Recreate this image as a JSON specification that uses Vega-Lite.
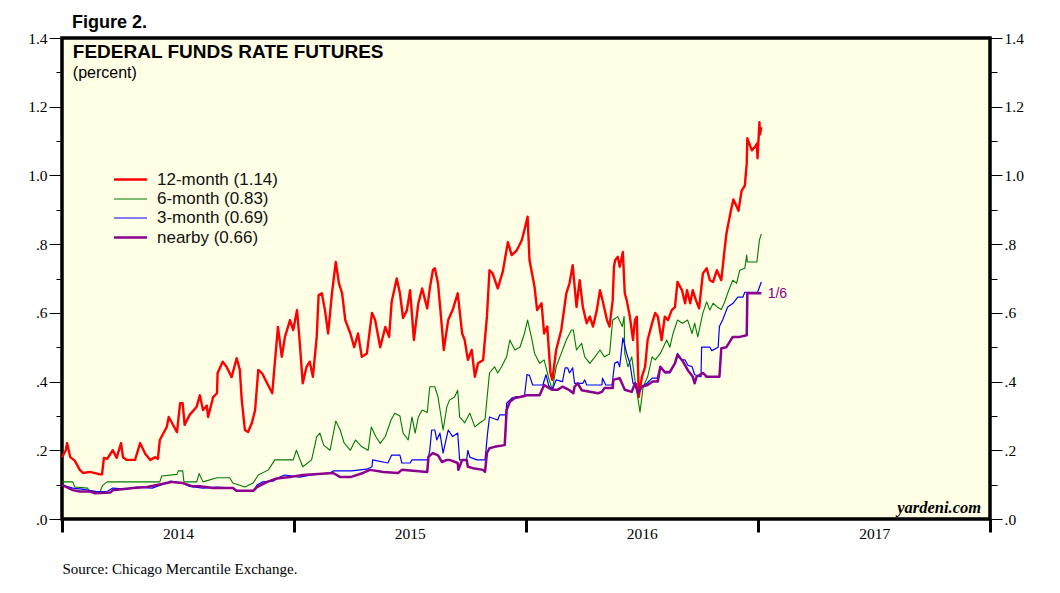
{
  "$schema": "https://vega.github.io/schema/vega-lite/v6.json",
  "autosize": "none",
  "padding": {"left": 62, "top": 38, "right": 70, "bottom": 74},
  "width": 928,
  "height": 481,
  "background": "white",
  "title": {"text": "Figure 2.", "anchor": "start", "frame": "group", "dx": 10, "offset": -15, "baseline": "alphabetic", "font": "Liberation Sans", "fontSize": 18, "fontWeight": "bold", "color": "black"},
  "config": {
    "view": {"stroke": "black", "strokeWidth": 3.5, "fill": "#FFFFE6"},
    "axis": {"domain": false, "grid": false, "labelFont": "Liberation Serif", "labelFontSize": 15.5, "labelColor": "black", "tickColor": "black"},
    "legend": {"symbolType": "M-1.65,0H1.65", "symbolSize": 400, "labelFont": "Liberation Sans", "labelFontSize": 17, "labelColor": "#111111", "labelOffset": 15, "rowPadding": 0, "padding": 0, "labelLimit": 300}
  },
  "data": {"values": [
    {"date": "2014-01-01", "series": "12-month (1.14)", "value": 0.18},
    {"date": "2014-01-07", "series": "12-month (1.14)", "value": 0.20},
    {"date": "2014-01-09", "series": "12-month (1.14)", "value": 0.221},
    {"date": "2014-01-14", "series": "12-month (1.14)", "value": 0.18},
    {"date": "2014-01-21", "series": "12-month (1.14)", "value": 0.17},
    {"date": "2014-01-29", "series": "12-month (1.14)", "value": 0.143},
    {"date": "2014-02-03", "series": "12-month (1.14)", "value": 0.134},
    {"date": "2014-02-14", "series": "12-month (1.14)", "value": 0.137},
    {"date": "2014-03-02", "series": "12-month (1.14)", "value": 0.13},
    {"date": "2014-03-05", "series": "12-month (1.14)", "value": 0.13},
    {"date": "2014-03-08", "series": "12-month (1.14)", "value": 0.178},
    {"date": "2014-03-13", "series": "12-month (1.14)", "value": 0.175},
    {"date": "2014-03-22", "series": "12-month (1.14)", "value": 0.2},
    {"date": "2014-03-28", "series": "12-month (1.14)", "value": 0.178},
    {"date": "2014-04-04", "series": "12-month (1.14)", "value": 0.221},
    {"date": "2014-04-07", "series": "12-month (1.14)", "value": 0.18},
    {"date": "2014-04-13", "series": "12-month (1.14)", "value": 0.172},
    {"date": "2014-04-26", "series": "12-month (1.14)", "value": 0.172},
    {"date": "2014-05-04", "series": "12-month (1.14)", "value": 0.221},
    {"date": "2014-05-12", "series": "12-month (1.14)", "value": 0.19},
    {"date": "2014-05-20", "series": "12-month (1.14)", "value": 0.172},
    {"date": "2014-05-28", "series": "12-month (1.14)", "value": 0.18},
    {"date": "2014-06-01", "series": "12-month (1.14)", "value": 0.175},
    {"date": "2014-06-04", "series": "12-month (1.14)", "value": 0.23},
    {"date": "2014-06-15", "series": "12-month (1.14)", "value": 0.268},
    {"date": "2014-06-18", "series": "12-month (1.14)", "value": 0.297},
    {"date": "2014-06-23", "series": "12-month (1.14)", "value": 0.28},
    {"date": "2014-07-01", "series": "12-month (1.14)", "value": 0.253},
    {"date": "2014-07-06", "series": "12-month (1.14)", "value": 0.337},
    {"date": "2014-07-10", "series": "12-month (1.14)", "value": 0.337},
    {"date": "2014-07-13", "series": "12-month (1.14)", "value": 0.274},
    {"date": "2014-07-21", "series": "12-month (1.14)", "value": 0.303},
    {"date": "2014-08-01", "series": "12-month (1.14)", "value": 0.327},
    {"date": "2014-08-06", "series": "12-month (1.14)", "value": 0.36},
    {"date": "2014-08-11", "series": "12-month (1.14)", "value": 0.317},
    {"date": "2014-08-17", "series": "12-month (1.14)", "value": 0.33},
    {"date": "2014-08-19", "series": "12-month (1.14)", "value": 0.297},
    {"date": "2014-08-27", "series": "12-month (1.14)", "value": 0.355},
    {"date": "2014-09-02", "series": "12-month (1.14)", "value": 0.366},
    {"date": "2014-09-03", "series": "12-month (1.14)", "value": 0.425},
    {"date": "2014-09-11", "series": "12-month (1.14)", "value": 0.458},
    {"date": "2014-09-17", "series": "12-month (1.14)", "value": 0.443},
    {"date": "2014-09-25", "series": "12-month (1.14)", "value": 0.413},
    {"date": "2014-10-03", "series": "12-month (1.14)", "value": 0.468},
    {"date": "2014-10-08", "series": "12-month (1.14)", "value": 0.434},
    {"date": "2014-10-11", "series": "12-month (1.14)", "value": 0.346},
    {"date": "2014-10-16", "series": "12-month (1.14)", "value": 0.259},
    {"date": "2014-10-21", "series": "12-month (1.14)", "value": 0.253},
    {"date": "2014-10-27", "series": "12-month (1.14)", "value": 0.28},
    {"date": "2014-11-01", "series": "12-month (1.14)", "value": 0.317},
    {"date": "2014-11-06", "series": "12-month (1.14)", "value": 0.434},
    {"date": "2014-11-12", "series": "12-month (1.14)", "value": 0.424},
    {"date": "2014-11-20", "series": "12-month (1.14)", "value": 0.395},
    {"date": "2014-11-28", "series": "12-month (1.14)", "value": 0.366},
    {"date": "2014-12-02", "series": "12-month (1.14)", "value": 0.453},
    {"date": "2014-12-07", "series": "12-month (1.14)", "value": 0.559},
    {"date": "2014-12-13", "series": "12-month (1.14)", "value": 0.472},
    {"date": "2014-12-18", "series": "12-month (1.14)", "value": 0.53},
    {"date": "2014-12-26", "series": "12-month (1.14)", "value": 0.579},
    {"date": "2014-12-31", "series": "12-month (1.14)", "value": 0.55},
    {"date": "2015-01-06", "series": "12-month (1.14)", "value": 0.608},
    {"date": "2015-01-10", "series": "12-month (1.14)", "value": 0.521},
    {"date": "2015-01-15", "series": "12-month (1.14)", "value": 0.395},
    {"date": "2015-01-21", "series": "12-month (1.14)", "value": 0.443},
    {"date": "2015-01-26", "series": "12-month (1.14)", "value": 0.458},
    {"date": "2015-01-31", "series": "12-month (1.14)", "value": 0.414},
    {"date": "2015-02-06", "series": "12-month (1.14)", "value": 0.53},
    {"date": "2015-02-09", "series": "12-month (1.14)", "value": 0.652},
    {"date": "2015-02-14", "series": "12-month (1.14)", "value": 0.657},
    {"date": "2015-02-19", "series": "12-month (1.14)", "value": 0.608},
    {"date": "2015-02-24", "series": "12-month (1.14)", "value": 0.54},
    {"date": "2015-03-02", "series": "12-month (1.14)", "value": 0.657},
    {"date": "2015-03-08", "series": "12-month (1.14)", "value": 0.748},
    {"date": "2015-03-13", "series": "12-month (1.14)", "value": 0.686},
    {"date": "2015-03-18", "series": "12-month (1.14)", "value": 0.657},
    {"date": "2015-03-23", "series": "12-month (1.14)", "value": 0.579},
    {"date": "2015-03-31", "series": "12-month (1.14)", "value": 0.54},
    {"date": "2015-04-06", "series": "12-month (1.14)", "value": 0.5},
    {"date": "2015-04-12", "series": "12-month (1.14)", "value": 0.54},
    {"date": "2015-04-18", "series": "12-month (1.14)", "value": 0.472},
    {"date": "2015-04-26", "series": "12-month (1.14)", "value": 0.482},
    {"date": "2015-05-04", "series": "12-month (1.14)", "value": 0.6},
    {"date": "2015-05-09", "series": "12-month (1.14)", "value": 0.579},
    {"date": "2015-05-17", "series": "12-month (1.14)", "value": 0.5},
    {"date": "2015-05-25", "series": "12-month (1.14)", "value": 0.559},
    {"date": "2015-05-31", "series": "12-month (1.14)", "value": 0.53},
    {"date": "2015-06-04", "series": "12-month (1.14)", "value": 0.632},
    {"date": "2015-06-12", "series": "12-month (1.14)", "value": 0.7},
    {"date": "2015-06-17", "series": "12-month (1.14)", "value": 0.657},
    {"date": "2015-06-22", "series": "12-month (1.14)", "value": 0.585},
    {"date": "2015-06-28", "series": "12-month (1.14)", "value": 0.608},
    {"date": "2015-07-03", "series": "12-month (1.14)", "value": 0.666},
    {"date": "2015-07-09", "series": "12-month (1.14)", "value": 0.521},
    {"date": "2015-07-16", "series": "12-month (1.14)", "value": 0.628},
    {"date": "2015-07-22", "series": "12-month (1.14)", "value": 0.671},
    {"date": "2015-07-30", "series": "12-month (1.14)", "value": 0.613},
    {"date": "2015-08-03", "series": "12-month (1.14)", "value": 0.671},
    {"date": "2015-08-08", "series": "12-month (1.14)", "value": 0.725},
    {"date": "2015-08-11", "series": "12-month (1.14)", "value": 0.73},
    {"date": "2015-08-16", "series": "12-month (1.14)", "value": 0.686},
    {"date": "2015-08-22", "series": "12-month (1.14)", "value": 0.56},
    {"date": "2015-08-25", "series": "12-month (1.14)", "value": 0.492},
    {"date": "2015-09-01", "series": "12-month (1.14)", "value": 0.579},
    {"date": "2015-09-08", "series": "12-month (1.14)", "value": 0.608},
    {"date": "2015-09-16", "series": "12-month (1.14)", "value": 0.657},
    {"date": "2015-09-23", "series": "12-month (1.14)", "value": 0.54},
    {"date": "2015-09-27", "series": "12-month (1.14)", "value": 0.521},
    {"date": "2015-10-02", "series": "12-month (1.14)", "value": 0.463},
    {"date": "2015-10-08", "series": "12-month (1.14)", "value": 0.492},
    {"date": "2015-10-13", "series": "12-month (1.14)", "value": 0.414},
    {"date": "2015-10-18", "series": "12-month (1.14)", "value": 0.453},
    {"date": "2015-10-26", "series": "12-month (1.14)", "value": 0.463},
    {"date": "2015-11-01", "series": "12-month (1.14)", "value": 0.589},
    {"date": "2015-11-05", "series": "12-month (1.14)", "value": 0.724},
    {"date": "2015-11-10", "series": "12-month (1.14)", "value": 0.715},
    {"date": "2015-11-18", "series": "12-month (1.14)", "value": 0.671},
    {"date": "2015-11-26", "series": "12-month (1.14)", "value": 0.72},
    {"date": "2015-12-04", "series": "12-month (1.14)", "value": 0.806},
    {"date": "2015-12-10", "series": "12-month (1.14)", "value": 0.768},
    {"date": "2015-12-18", "series": "12-month (1.14)", "value": 0.782},
    {"date": "2015-12-26", "series": "12-month (1.14)", "value": 0.812},
    {"date": "2015-12-30", "series": "12-month (1.14)", "value": 0.841},
    {"date": "2016-01-04", "series": "12-month (1.14)", "value": 0.88},
    {"date": "2016-01-07", "series": "12-month (1.14)", "value": 0.754},
    {"date": "2016-01-15", "series": "12-month (1.14)", "value": 0.675},
    {"date": "2016-01-19", "series": "12-month (1.14)", "value": 0.608},
    {"date": "2016-01-26", "series": "12-month (1.14)", "value": 0.628},
    {"date": "2016-01-30", "series": "12-month (1.14)", "value": 0.54},
    {"date": "2016-02-04", "series": "12-month (1.14)", "value": 0.56},
    {"date": "2016-02-09", "series": "12-month (1.14)", "value": 0.425},
    {"date": "2016-02-12", "series": "12-month (1.14)", "value": 0.405},
    {"date": "2016-02-18", "series": "12-month (1.14)", "value": 0.492},
    {"date": "2016-02-26", "series": "12-month (1.14)", "value": 0.55},
    {"date": "2016-03-05", "series": "12-month (1.14)", "value": 0.657},
    {"date": "2016-03-10", "series": "12-month (1.14)", "value": 0.686},
    {"date": "2016-03-15", "series": "12-month (1.14)", "value": 0.739},
    {"date": "2016-03-21", "series": "12-month (1.14)", "value": 0.617},
    {"date": "2016-03-26", "series": "12-month (1.14)", "value": 0.695},
    {"date": "2016-03-31", "series": "12-month (1.14)", "value": 0.617},
    {"date": "2016-04-06", "series": "12-month (1.14)", "value": 0.57},
    {"date": "2016-04-11", "series": "12-month (1.14)", "value": 0.589},
    {"date": "2016-04-16", "series": "12-month (1.14)", "value": 0.56},
    {"date": "2016-04-22", "series": "12-month (1.14)", "value": 0.608},
    {"date": "2016-04-27", "series": "12-month (1.14)", "value": 0.666},
    {"date": "2016-05-01", "series": "12-month (1.14)", "value": 0.637},
    {"date": "2016-05-08", "series": "12-month (1.14)", "value": 0.579},
    {"date": "2016-05-12", "series": "12-month (1.14)", "value": 0.56},
    {"date": "2016-05-17", "series": "12-month (1.14)", "value": 0.637},
    {"date": "2016-05-19", "series": "12-month (1.14)", "value": 0.734},
    {"date": "2016-05-21", "series": "12-month (1.14)", "value": 0.754},
    {"date": "2016-05-25", "series": "12-month (1.14)", "value": 0.763},
    {"date": "2016-05-28", "series": "12-month (1.14)", "value": 0.734},
    {"date": "2016-06-02", "series": "12-month (1.14)", "value": 0.777},
    {"date": "2016-06-05", "series": "12-month (1.14)", "value": 0.657},
    {"date": "2016-06-08", "series": "12-month (1.14)", "value": 0.637},
    {"date": "2016-06-13", "series": "12-month (1.14)", "value": 0.589},
    {"date": "2016-06-18", "series": "12-month (1.14)", "value": 0.521},
    {"date": "2016-06-21", "series": "12-month (1.14)", "value": 0.579},
    {"date": "2016-06-24", "series": "12-month (1.14)", "value": 0.589},
    {"date": "2016-06-27", "series": "12-month (1.14)", "value": 0.355},
    {"date": "2016-07-02", "series": "12-month (1.14)", "value": 0.414},
    {"date": "2016-07-07", "series": "12-month (1.14)", "value": 0.443},
    {"date": "2016-07-11", "series": "12-month (1.14)", "value": 0.521},
    {"date": "2016-07-18", "series": "12-month (1.14)", "value": 0.57},
    {"date": "2016-07-23", "series": "12-month (1.14)", "value": 0.6},
    {"date": "2016-07-27", "series": "12-month (1.14)", "value": 0.589},
    {"date": "2016-08-02", "series": "12-month (1.14)", "value": 0.521},
    {"date": "2016-08-07", "series": "12-month (1.14)", "value": 0.589},
    {"date": "2016-08-12", "series": "12-month (1.14)", "value": 0.579},
    {"date": "2016-08-18", "series": "12-month (1.14)", "value": 0.608},
    {"date": "2016-08-23", "series": "12-month (1.14)", "value": 0.617},
    {"date": "2016-08-27", "series": "12-month (1.14)", "value": 0.69},
    {"date": "2016-09-03", "series": "12-month (1.14)", "value": 0.666},
    {"date": "2016-09-08", "series": "12-month (1.14)", "value": 0.628},
    {"date": "2016-09-11", "series": "12-month (1.14)", "value": 0.666},
    {"date": "2016-09-16", "series": "12-month (1.14)", "value": 0.628},
    {"date": "2016-09-20", "series": "12-month (1.14)", "value": 0.666},
    {"date": "2016-09-25", "series": "12-month (1.14)", "value": 0.637},
    {"date": "2016-09-30", "series": "12-month (1.14)", "value": 0.613},
    {"date": "2016-10-06", "series": "12-month (1.14)", "value": 0.715},
    {"date": "2016-10-12", "series": "12-month (1.14)", "value": 0.73},
    {"date": "2016-10-17", "series": "12-month (1.14)", "value": 0.695},
    {"date": "2016-10-22", "series": "12-month (1.14)", "value": 0.69},
    {"date": "2016-10-28", "series": "12-month (1.14)", "value": 0.724},
    {"date": "2016-11-04", "series": "12-month (1.14)", "value": 0.695},
    {"date": "2016-11-09", "series": "12-month (1.14)", "value": 0.782},
    {"date": "2016-11-12", "series": "12-month (1.14)", "value": 0.83},
    {"date": "2016-11-19", "series": "12-month (1.14)", "value": 0.897},
    {"date": "2016-11-23", "series": "12-month (1.14)", "value": 0.93},
    {"date": "2016-11-28", "series": "12-month (1.14)", "value": 0.91},
    {"date": "2016-12-01", "series": "12-month (1.14)", "value": 0.897},
    {"date": "2016-12-06", "series": "12-month (1.14)", "value": 0.956},
    {"date": "2016-12-11", "series": "12-month (1.14)", "value": 0.97},
    {"date": "2016-12-14", "series": "12-month (1.14)", "value": 1.035},
    {"date": "2016-12-15", "series": "12-month (1.14)", "value": 1.108},
    {"date": "2016-12-22", "series": "12-month (1.14)", "value": 1.073},
    {"date": "2016-12-27", "series": "12-month (1.14)", "value": 1.083},
    {"date": "2016-12-30", "series": "12-month (1.14)", "value": 1.093},
    {"date": "2016-12-31", "series": "12-month (1.14)", "value": 1.05},
    {"date": "2017-01-03", "series": "12-month (1.14)", "value": 1.155},
    {"date": "2017-01-04", "series": "12-month (1.14)", "value": 1.12},
    {"date": "2017-01-06", "series": "12-month (1.14)", "value": 1.14},

    {"date": "2014-01-01", "series": "6-month (0.83)", "value": 0.108},
    {"date": "2014-01-18", "series": "6-month (0.83)", "value": 0.108},
    {"date": "2014-01-21", "series": "6-month (0.83)", "value": 0.093},
    {"date": "2014-02-10", "series": "6-month (0.83)", "value": 0.09},
    {"date": "2014-02-14", "series": "6-month (0.83)", "value": 0.08},
    {"date": "2014-03-02", "series": "6-month (0.83)", "value": 0.08},
    {"date": "2014-03-06", "series": "6-month (0.83)", "value": 0.098},
    {"date": "2014-03-13", "series": "6-month (0.83)", "value": 0.108},
    {"date": "2014-06-04", "series": "6-month (0.83)", "value": 0.108},
    {"date": "2014-06-07", "series": "6-month (0.83)", "value": 0.125},
    {"date": "2014-07-01", "series": "6-month (0.83)", "value": 0.13},
    {"date": "2014-07-03", "series": "6-month (0.83)", "value": 0.14},
    {"date": "2014-07-10", "series": "6-month (0.83)", "value": 0.14},
    {"date": "2014-07-12", "series": "6-month (0.83)", "value": 0.108},
    {"date": "2014-08-01", "series": "6-month (0.83)", "value": 0.108},
    {"date": "2014-08-05", "series": "6-month (0.83)", "value": 0.132},
    {"date": "2014-08-11", "series": "6-month (0.83)", "value": 0.108},
    {"date": "2014-09-02", "series": "6-month (0.83)", "value": 0.12},
    {"date": "2014-09-22", "series": "6-month (0.83)", "value": 0.12},
    {"date": "2014-09-27", "series": "6-month (0.83)", "value": 0.105},
    {"date": "2014-10-16", "series": "6-month (0.83)", "value": 0.093},
    {"date": "2014-10-29", "series": "6-month (0.83)", "value": 0.105},
    {"date": "2014-11-06", "series": "6-month (0.83)", "value": 0.128},
    {"date": "2014-11-22", "series": "6-month (0.83)", "value": 0.143},
    {"date": "2014-12-02", "series": "6-month (0.83)", "value": 0.172},
    {"date": "2014-12-31", "series": "6-month (0.83)", "value": 0.172},
    {"date": "2015-01-05", "series": "6-month (0.83)", "value": 0.2},
    {"date": "2015-01-15", "series": "6-month (0.83)", "value": 0.152},
    {"date": "2015-01-29", "series": "6-month (0.83)", "value": 0.172},
    {"date": "2015-02-06", "series": "6-month (0.83)", "value": 0.24},
    {"date": "2015-02-11", "series": "6-month (0.83)", "value": 0.25},
    {"date": "2015-02-17", "series": "6-month (0.83)", "value": 0.215},
    {"date": "2015-02-27", "series": "6-month (0.83)", "value": 0.2},
    {"date": "2015-03-08", "series": "6-month (0.83)", "value": 0.285},
    {"date": "2015-03-15", "series": "6-month (0.83)", "value": 0.259},
    {"date": "2015-03-21", "series": "6-month (0.83)", "value": 0.222},
    {"date": "2015-03-31", "series": "6-month (0.83)", "value": 0.2},
    {"date": "2015-04-08", "series": "6-month (0.83)", "value": 0.23},
    {"date": "2015-04-18", "series": "6-month (0.83)", "value": 0.21},
    {"date": "2015-04-28", "series": "6-month (0.83)", "value": 0.2},
    {"date": "2015-05-03", "series": "6-month (0.83)", "value": 0.268},
    {"date": "2015-05-10", "series": "6-month (0.83)", "value": 0.24},
    {"date": "2015-05-17", "series": "6-month (0.83)", "value": 0.22},
    {"date": "2015-05-25", "series": "6-month (0.83)", "value": 0.24},
    {"date": "2015-06-03", "series": "6-month (0.83)", "value": 0.288},
    {"date": "2015-06-09", "series": "6-month (0.83)", "value": 0.308},
    {"date": "2015-06-17", "series": "6-month (0.83)", "value": 0.3},
    {"date": "2015-06-22", "series": "6-month (0.83)", "value": 0.25},
    {"date": "2015-06-30", "series": "6-month (0.83)", "value": 0.23},
    {"date": "2015-07-06", "series": "6-month (0.83)", "value": 0.297},
    {"date": "2015-07-11", "series": "6-month (0.83)", "value": 0.25},
    {"date": "2015-07-16", "series": "6-month (0.83)", "value": 0.297},
    {"date": "2015-07-22", "series": "6-month (0.83)", "value": 0.317},
    {"date": "2015-07-30", "series": "6-month (0.83)", "value": 0.31},
    {"date": "2015-08-03", "series": "6-month (0.83)", "value": 0.385},
    {"date": "2015-08-11", "series": "6-month (0.83)", "value": 0.385},
    {"date": "2015-08-16", "series": "6-month (0.83)", "value": 0.355},
    {"date": "2015-08-24", "series": "6-month (0.83)", "value": 0.259},
    {"date": "2015-08-30", "series": "6-month (0.83)", "value": 0.327},
    {"date": "2015-09-03", "series": "6-month (0.83)", "value": 0.346},
    {"date": "2015-09-11", "series": "6-month (0.83)", "value": 0.355},
    {"date": "2015-09-16", "series": "6-month (0.83)", "value": 0.375},
    {"date": "2015-09-19", "series": "6-month (0.83)", "value": 0.297},
    {"date": "2015-09-27", "series": "6-month (0.83)", "value": 0.28},
    {"date": "2015-10-05", "series": "6-month (0.83)", "value": 0.308},
    {"date": "2015-10-13", "series": "6-month (0.83)", "value": 0.268},
    {"date": "2015-10-21", "series": "6-month (0.83)", "value": 0.28},
    {"date": "2015-10-29", "series": "6-month (0.83)", "value": 0.29},
    {"date": "2015-11-05", "series": "6-month (0.83)", "value": 0.425},
    {"date": "2015-11-13", "series": "6-month (0.83)", "value": 0.443},
    {"date": "2015-11-18", "series": "6-month (0.83)", "value": 0.425},
    {"date": "2015-11-24", "series": "6-month (0.83)", "value": 0.443},
    {"date": "2015-12-02", "series": "6-month (0.83)", "value": 0.472},
    {"date": "2015-12-07", "series": "6-month (0.83)", "value": 0.521},
    {"date": "2015-12-15", "series": "6-month (0.83)", "value": 0.492},
    {"date": "2015-12-23", "series": "6-month (0.83)", "value": 0.5},
    {"date": "2015-12-30", "series": "6-month (0.83)", "value": 0.54},
    {"date": "2016-01-04", "series": "6-month (0.83)", "value": 0.579},
    {"date": "2016-01-10", "series": "6-month (0.83)", "value": 0.53},
    {"date": "2016-01-15", "series": "6-month (0.83)", "value": 0.482},
    {"date": "2016-01-23", "series": "6-month (0.83)", "value": 0.453},
    {"date": "2016-01-30", "series": "6-month (0.83)", "value": 0.463},
    {"date": "2016-02-07", "series": "6-month (0.83)", "value": 0.405},
    {"date": "2016-02-12", "series": "6-month (0.83)", "value": 0.376},
    {"date": "2016-02-18", "series": "6-month (0.83)", "value": 0.443},
    {"date": "2016-02-26", "series": "6-month (0.83)", "value": 0.482},
    {"date": "2016-03-05", "series": "6-month (0.83)", "value": 0.521},
    {"date": "2016-03-13", "series": "6-month (0.83)", "value": 0.55},
    {"date": "2016-03-16", "series": "6-month (0.83)", "value": 0.55},
    {"date": "2016-03-21", "series": "6-month (0.83)", "value": 0.492},
    {"date": "2016-03-29", "series": "6-month (0.83)", "value": 0.511},
    {"date": "2016-04-03", "series": "6-month (0.83)", "value": 0.472},
    {"date": "2016-04-11", "series": "6-month (0.83)", "value": 0.453},
    {"date": "2016-04-19", "series": "6-month (0.83)", "value": 0.472},
    {"date": "2016-04-27", "series": "6-month (0.83)", "value": 0.492},
    {"date": "2016-05-04", "series": "6-month (0.83)", "value": 0.472},
    {"date": "2016-05-12", "series": "6-month (0.83)", "value": 0.48},
    {"date": "2016-05-17", "series": "6-month (0.83)", "value": 0.579},
    {"date": "2016-05-25", "series": "6-month (0.83)", "value": 0.589},
    {"date": "2016-06-01", "series": "6-month (0.83)", "value": 0.56},
    {"date": "2016-06-04", "series": "6-month (0.83)", "value": 0.589},
    {"date": "2016-06-05", "series": "6-month (0.83)", "value": 0.482},
    {"date": "2016-06-10", "series": "6-month (0.83)", "value": 0.443},
    {"date": "2016-06-16", "series": "6-month (0.83)", "value": 0.472},
    {"date": "2016-06-21", "series": "6-month (0.83)", "value": 0.405},
    {"date": "2016-06-29", "series": "6-month (0.83)", "value": 0.311},
    {"date": "2016-07-04", "series": "6-month (0.83)", "value": 0.385},
    {"date": "2016-07-11", "series": "6-month (0.83)", "value": 0.414},
    {"date": "2016-07-18", "series": "6-month (0.83)", "value": 0.472},
    {"date": "2016-07-23", "series": "6-month (0.83)", "value": 0.463},
    {"date": "2016-07-31", "series": "6-month (0.83)", "value": 0.482},
    {"date": "2016-08-10", "series": "6-month (0.83)", "value": 0.521},
    {"date": "2016-08-15", "series": "6-month (0.83)", "value": 0.5},
    {"date": "2016-08-20", "series": "6-month (0.83)", "value": 0.54},
    {"date": "2016-08-27", "series": "6-month (0.83)", "value": 0.579},
    {"date": "2016-09-04", "series": "6-month (0.83)", "value": 0.57},
    {"date": "2016-09-12", "series": "6-month (0.83)", "value": 0.579},
    {"date": "2016-09-19", "series": "6-month (0.83)", "value": 0.54},
    {"date": "2016-09-23", "series": "6-month (0.83)", "value": 0.57},
    {"date": "2016-09-28", "series": "6-month (0.83)", "value": 0.53},
    {"date": "2016-10-06", "series": "6-month (0.83)", "value": 0.6},
    {"date": "2016-10-12", "series": "6-month (0.83)", "value": 0.632},
    {"date": "2016-10-17", "series": "6-month (0.83)", "value": 0.608},
    {"date": "2016-10-22", "series": "6-month (0.83)", "value": 0.628},
    {"date": "2016-10-28", "series": "6-month (0.83)", "value": 0.618},
    {"date": "2016-11-04", "series": "6-month (0.83)", "value": 0.61},
    {"date": "2016-11-09", "series": "6-month (0.83)", "value": 0.63},
    {"date": "2016-11-14", "series": "6-month (0.83)", "value": 0.657},
    {"date": "2016-11-22", "series": "6-month (0.83)", "value": 0.695},
    {"date": "2016-11-28", "series": "6-month (0.83)", "value": 0.686},
    {"date": "2016-12-03", "series": "6-month (0.83)", "value": 0.724},
    {"date": "2016-12-11", "series": "6-month (0.83)", "value": 0.73},
    {"date": "2016-12-14", "series": "6-month (0.83)", "value": 0.768},
    {"date": "2016-12-15", "series": "6-month (0.83)", "value": 0.748},
    {"date": "2016-12-30", "series": "6-month (0.83)", "value": 0.748},
    {"date": "2017-01-03", "series": "6-month (0.83)", "value": 0.812},
    {"date": "2017-01-06", "series": "6-month (0.83)", "value": 0.83},

    {"date": "2014-01-01", "series": "3-month (0.69)", "value": 0.099},
    {"date": "2014-01-18", "series": "3-month (0.69)", "value": 0.09},
    {"date": "2014-02-01", "series": "3-month (0.69)", "value": 0.087},
    {"date": "2014-02-25", "series": "3-month (0.69)", "value": 0.08},
    {"date": "2014-03-13", "series": "3-month (0.69)", "value": 0.08},
    {"date": "2014-03-22", "series": "3-month (0.69)", "value": 0.09},
    {"date": "2014-04-13", "series": "3-month (0.69)", "value": 0.087},
    {"date": "2014-04-29", "series": "3-month (0.69)", "value": 0.093},
    {"date": "2014-05-23", "series": "3-month (0.69)", "value": 0.09},
    {"date": "2014-06-15", "series": "3-month (0.69)", "value": 0.105},
    {"date": "2014-06-20", "series": "3-month (0.69)", "value": 0.11},
    {"date": "2014-07-09", "series": "3-month (0.69)", "value": 0.105},
    {"date": "2014-07-21", "series": "3-month (0.69)", "value": 0.095},
    {"date": "2014-08-11", "series": "3-month (0.69)", "value": 0.09},
    {"date": "2014-09-02", "series": "3-month (0.69)", "value": 0.093},
    {"date": "2014-09-27", "series": "3-month (0.69)", "value": 0.09},
    {"date": "2014-10-03", "series": "3-month (0.69)", "value": 0.08},
    {"date": "2014-10-29", "series": "3-month (0.69)", "value": 0.08},
    {"date": "2014-11-04", "series": "3-month (0.69)", "value": 0.099},
    {"date": "2014-11-13", "series": "3-month (0.69)", "value": 0.108},
    {"date": "2014-11-29", "series": "3-month (0.69)", "value": 0.11},
    {"date": "2014-12-10", "series": "3-month (0.69)", "value": 0.122},
    {"date": "2014-12-18", "series": "3-month (0.69)", "value": 0.128},
    {"date": "2015-01-10", "series": "3-month (0.69)", "value": 0.122},
    {"date": "2015-01-29", "series": "3-month (0.69)", "value": 0.128},
    {"date": "2015-02-27", "series": "3-month (0.69)", "value": 0.134},
    {"date": "2015-03-04", "series": "3-month (0.69)", "value": 0.14},
    {"date": "2015-04-02", "series": "3-month (0.69)", "value": 0.14},
    {"date": "2015-04-26", "series": "3-month (0.69)", "value": 0.145},
    {"date": "2015-05-04", "series": "3-month (0.69)", "value": 0.152},
    {"date": "2015-05-05", "series": "3-month (0.69)", "value": 0.172},
    {"date": "2015-05-29", "series": "3-month (0.69)", "value": 0.163},
    {"date": "2015-06-04", "series": "3-month (0.69)", "value": 0.186},
    {"date": "2015-06-17", "series": "3-month (0.69)", "value": 0.186},
    {"date": "2015-06-20", "series": "3-month (0.69)", "value": 0.163},
    {"date": "2015-07-03", "series": "3-month (0.69)", "value": 0.163},
    {"date": "2015-07-06", "series": "3-month (0.69)", "value": 0.172},
    {"date": "2015-07-31", "series": "3-month (0.69)", "value": 0.172},
    {"date": "2015-08-03", "series": "3-month (0.69)", "value": 0.2},
    {"date": "2015-08-06", "series": "3-month (0.69)", "value": 0.259},
    {"date": "2015-08-11", "series": "3-month (0.69)", "value": 0.259},
    {"date": "2015-08-14", "series": "3-month (0.69)", "value": 0.23},
    {"date": "2015-08-19", "series": "3-month (0.69)", "value": 0.25},
    {"date": "2015-08-24", "series": "3-month (0.69)", "value": 0.192},
    {"date": "2015-09-01", "series": "3-month (0.69)", "value": 0.259},
    {"date": "2015-09-08", "series": "3-month (0.69)", "value": 0.24},
    {"date": "2015-09-16", "series": "3-month (0.69)", "value": 0.25},
    {"date": "2015-09-19", "series": "3-month (0.69)", "value": 0.172},
    {"date": "2015-09-30", "series": "3-month (0.69)", "value": 0.172},
    {"date": "2015-10-02", "series": "3-month (0.69)", "value": 0.2},
    {"date": "2015-10-05", "series": "3-month (0.69)", "value": 0.18},
    {"date": "2015-10-16", "series": "3-month (0.69)", "value": 0.172},
    {"date": "2015-10-29", "series": "3-month (0.69)", "value": 0.172},
    {"date": "2015-11-02", "series": "3-month (0.69)", "value": 0.25},
    {"date": "2015-11-05", "series": "3-month (0.69)", "value": 0.297},
    {"date": "2015-11-18", "series": "3-month (0.69)", "value": 0.288},
    {"date": "2015-11-21", "series": "3-month (0.69)", "value": 0.303},
    {"date": "2015-12-01", "series": "3-month (0.69)", "value": 0.303},
    {"date": "2015-12-02", "series": "3-month (0.69)", "value": 0.337},
    {"date": "2015-12-10", "series": "3-month (0.69)", "value": 0.352},
    {"date": "2015-12-18", "series": "3-month (0.69)", "value": 0.356},
    {"date": "2015-12-30", "series": "3-month (0.69)", "value": 0.356},
    {"date": "2016-01-03", "series": "3-month (0.69)", "value": 0.42},
    {"date": "2016-01-07", "series": "3-month (0.69)", "value": 0.418},
    {"date": "2016-01-12", "series": "3-month (0.69)", "value": 0.39},
    {"date": "2016-01-28", "series": "3-month (0.69)", "value": 0.39},
    {"date": "2016-02-02", "series": "3-month (0.69)", "value": 0.42},
    {"date": "2016-02-06", "series": "3-month (0.69)", "value": 0.39},
    {"date": "2016-02-12", "series": "3-month (0.69)", "value": 0.376},
    {"date": "2016-02-18", "series": "3-month (0.69)", "value": 0.405},
    {"date": "2016-02-28", "series": "3-month (0.69)", "value": 0.4},
    {"date": "2016-03-03", "series": "3-month (0.69)", "value": 0.44},
    {"date": "2016-03-07", "series": "3-month (0.69)", "value": 0.44},
    {"date": "2016-03-10", "series": "3-month (0.69)", "value": 0.425},
    {"date": "2016-03-15", "series": "3-month (0.69)", "value": 0.44},
    {"date": "2016-03-18", "series": "3-month (0.69)", "value": 0.395},
    {"date": "2016-03-31", "series": "3-month (0.69)", "value": 0.395},
    {"date": "2016-04-03", "series": "3-month (0.69)", "value": 0.405},
    {"date": "2016-04-06", "series": "3-month (0.69)", "value": 0.39},
    {"date": "2016-04-30", "series": "3-month (0.69)", "value": 0.39},
    {"date": "2016-05-01", "series": "3-month (0.69)", "value": 0.41},
    {"date": "2016-05-06", "series": "3-month (0.69)", "value": 0.39},
    {"date": "2016-05-16", "series": "3-month (0.69)", "value": 0.39},
    {"date": "2016-05-20", "series": "3-month (0.69)", "value": 0.453},
    {"date": "2016-05-25", "series": "3-month (0.69)", "value": 0.458},
    {"date": "2016-05-28", "series": "3-month (0.69)", "value": 0.443},
    {"date": "2016-06-02", "series": "3-month (0.69)", "value": 0.527},
    {"date": "2016-06-08", "series": "3-month (0.69)", "value": 0.482},
    {"date": "2016-06-13", "series": "3-month (0.69)", "value": 0.453},
    {"date": "2016-06-18", "series": "3-month (0.69)", "value": 0.395},
    {"date": "2016-06-23", "series": "3-month (0.69)", "value": 0.395},
    {"date": "2016-06-26", "series": "3-month (0.69)", "value": 0.366},
    {"date": "2016-07-01", "series": "3-month (0.69)", "value": 0.385},
    {"date": "2016-07-10", "series": "3-month (0.69)", "value": 0.395},
    {"date": "2016-07-18", "series": "3-month (0.69)", "value": 0.41},
    {"date": "2016-07-26", "series": "3-month (0.69)", "value": 0.41},
    {"date": "2016-07-31", "series": "3-month (0.69)", "value": 0.443},
    {"date": "2016-08-07", "series": "3-month (0.69)", "value": 0.425},
    {"date": "2016-08-15", "series": "3-month (0.69)", "value": 0.425},
    {"date": "2016-08-23", "series": "3-month (0.69)", "value": 0.453},
    {"date": "2016-08-27", "series": "3-month (0.69)", "value": 0.482},
    {"date": "2016-09-03", "series": "3-month (0.69)", "value": 0.463},
    {"date": "2016-09-08", "series": "3-month (0.69)", "value": 0.463},
    {"date": "2016-09-12", "series": "3-month (0.69)", "value": 0.448},
    {"date": "2016-09-19", "series": "3-month (0.69)", "value": 0.443},
    {"date": "2016-09-23", "series": "3-month (0.69)", "value": 0.42},
    {"date": "2016-10-03", "series": "3-month (0.69)", "value": 0.414},
    {"date": "2016-10-04", "series": "3-month (0.69)", "value": 0.5},
    {"date": "2016-10-17", "series": "3-month (0.69)", "value": 0.5},
    {"date": "2016-10-20", "series": "3-month (0.69)", "value": 0.49},
    {"date": "2016-10-30", "series": "3-month (0.69)", "value": 0.5},
    {"date": "2016-11-01", "series": "3-month (0.69)", "value": 0.56},
    {"date": "2016-11-06", "series": "3-month (0.69)", "value": 0.579},
    {"date": "2016-11-14", "series": "3-month (0.69)", "value": 0.617},
    {"date": "2016-11-22", "series": "3-month (0.69)", "value": 0.627},
    {"date": "2016-11-30", "series": "3-month (0.69)", "value": 0.646},
    {"date": "2016-12-08", "series": "3-month (0.69)", "value": 0.646},
    {"date": "2016-12-11", "series": "3-month (0.69)", "value": 0.66},
    {"date": "2016-12-31", "series": "3-month (0.69)", "value": 0.66},
    {"date": "2017-01-06", "series": "3-month (0.69)", "value": 0.69},

    {"date": "2014-01-01", "series": "nearby (0.66)", "value": 0.099},
    {"date": "2014-01-18", "series": "nearby (0.66)", "value": 0.084},
    {"date": "2014-01-29", "series": "nearby (0.66)", "value": 0.08},
    {"date": "2014-02-14", "series": "nearby (0.66)", "value": 0.08},
    {"date": "2014-02-22", "series": "nearby (0.66)", "value": 0.075},
    {"date": "2014-03-18", "series": "nearby (0.66)", "value": 0.077},
    {"date": "2014-03-22", "series": "nearby (0.66)", "value": 0.084},
    {"date": "2014-04-23", "series": "nearby (0.66)", "value": 0.09},
    {"date": "2014-05-15", "series": "nearby (0.66)", "value": 0.093},
    {"date": "2014-06-15", "series": "nearby (0.66)", "value": 0.105},
    {"date": "2014-06-23", "series": "nearby (0.66)", "value": 0.108},
    {"date": "2014-07-09", "series": "nearby (0.66)", "value": 0.105},
    {"date": "2014-07-26", "series": "nearby (0.66)", "value": 0.095},
    {"date": "2014-08-06", "series": "nearby (0.66)", "value": 0.095},
    {"date": "2014-08-27", "series": "nearby (0.66)", "value": 0.09},
    {"date": "2014-09-27", "series": "nearby (0.66)", "value": 0.09},
    {"date": "2014-10-03", "series": "nearby (0.66)", "value": 0.082},
    {"date": "2014-10-29", "series": "nearby (0.66)", "value": 0.082},
    {"date": "2014-11-04", "series": "nearby (0.66)", "value": 0.093},
    {"date": "2014-11-20", "series": "nearby (0.66)", "value": 0.108},
    {"date": "2014-12-05", "series": "nearby (0.66)", "value": 0.118},
    {"date": "2014-12-26", "series": "nearby (0.66)", "value": 0.122},
    {"date": "2015-01-15", "series": "nearby (0.66)", "value": 0.128},
    {"date": "2015-03-04", "series": "nearby (0.66)", "value": 0.134},
    {"date": "2015-03-15", "series": "nearby (0.66)", "value": 0.122},
    {"date": "2015-03-31", "series": "nearby (0.66)", "value": 0.122},
    {"date": "2015-04-20", "series": "nearby (0.66)", "value": 0.134},
    {"date": "2015-05-01", "series": "nearby (0.66)", "value": 0.143},
    {"date": "2015-05-22", "series": "nearby (0.66)", "value": 0.137},
    {"date": "2015-06-14", "series": "nearby (0.66)", "value": 0.134},
    {"date": "2015-06-20", "series": "nearby (0.66)", "value": 0.143},
    {"date": "2015-07-30", "series": "nearby (0.66)", "value": 0.137},
    {"date": "2015-08-01", "series": "nearby (0.66)", "value": 0.181},
    {"date": "2015-08-08", "series": "nearby (0.66)", "value": 0.192},
    {"date": "2015-08-16", "series": "nearby (0.66)", "value": 0.185},
    {"date": "2015-08-22", "series": "nearby (0.66)", "value": 0.166},
    {"date": "2015-08-30", "series": "nearby (0.66)", "value": 0.172},
    {"date": "2015-09-03", "series": "nearby (0.66)", "value": 0.172},
    {"date": "2015-09-16", "series": "nearby (0.66)", "value": 0.163},
    {"date": "2015-09-17", "series": "nearby (0.66)", "value": 0.143},
    {"date": "2015-09-23", "series": "nearby (0.66)", "value": 0.172},
    {"date": "2015-09-30", "series": "nearby (0.66)", "value": 0.172},
    {"date": "2015-10-02", "series": "nearby (0.66)", "value": 0.152},
    {"date": "2015-10-10", "series": "nearby (0.66)", "value": 0.148},
    {"date": "2015-10-26", "series": "nearby (0.66)", "value": 0.143},
    {"date": "2015-10-29", "series": "nearby (0.66)", "value": 0.137},
    {"date": "2015-11-01", "series": "nearby (0.66)", "value": 0.192},
    {"date": "2015-11-05", "series": "nearby (0.66)", "value": 0.206},
    {"date": "2015-11-13", "series": "nearby (0.66)", "value": 0.21},
    {"date": "2015-11-29", "series": "nearby (0.66)", "value": 0.215},
    {"date": "2015-12-02", "series": "nearby (0.66)", "value": 0.317},
    {"date": "2015-12-07", "series": "nearby (0.66)", "value": 0.341},
    {"date": "2015-12-15", "series": "nearby (0.66)", "value": 0.352},
    {"date": "2015-12-23", "series": "nearby (0.66)", "value": 0.355},
    {"date": "2016-01-03", "series": "nearby (0.66)", "value": 0.36},
    {"date": "2016-01-23", "series": "nearby (0.66)", "value": 0.36},
    {"date": "2016-01-30", "series": "nearby (0.66)", "value": 0.39},
    {"date": "2016-02-07", "series": "nearby (0.66)", "value": 0.381},
    {"date": "2016-02-12", "series": "nearby (0.66)", "value": 0.376},
    {"date": "2016-02-20", "series": "nearby (0.66)", "value": 0.376},
    {"date": "2016-02-28", "series": "nearby (0.66)", "value": 0.385},
    {"date": "2016-03-10", "series": "nearby (0.66)", "value": 0.375},
    {"date": "2016-03-16", "series": "nearby (0.66)", "value": 0.366},
    {"date": "2016-03-18", "series": "nearby (0.66)", "value": 0.385},
    {"date": "2016-03-23", "series": "nearby (0.66)", "value": 0.395},
    {"date": "2016-03-29", "series": "nearby (0.66)", "value": 0.375},
    {"date": "2016-04-24", "series": "nearby (0.66)", "value": 0.366},
    {"date": "2016-04-30", "series": "nearby (0.66)", "value": 0.37},
    {"date": "2016-05-04", "series": "nearby (0.66)", "value": 0.381},
    {"date": "2016-05-17", "series": "nearby (0.66)", "value": 0.381},
    {"date": "2016-05-18", "series": "nearby (0.66)", "value": 0.405},
    {"date": "2016-05-28", "series": "nearby (0.66)", "value": 0.41},
    {"date": "2016-06-05", "series": "nearby (0.66)", "value": 0.376},
    {"date": "2016-06-16", "series": "nearby (0.66)", "value": 0.37},
    {"date": "2016-06-21", "series": "nearby (0.66)", "value": 0.395},
    {"date": "2016-06-26", "series": "nearby (0.66)", "value": 0.366},
    {"date": "2016-07-02", "series": "nearby (0.66)", "value": 0.385},
    {"date": "2016-07-11", "series": "nearby (0.66)", "value": 0.39},
    {"date": "2016-07-19", "series": "nearby (0.66)", "value": 0.4},
    {"date": "2016-07-27", "series": "nearby (0.66)", "value": 0.4},
    {"date": "2016-07-31", "series": "nearby (0.66)", "value": 0.443},
    {"date": "2016-08-07", "series": "nearby (0.66)", "value": 0.428},
    {"date": "2016-08-15", "series": "nearby (0.66)", "value": 0.428},
    {"date": "2016-08-23", "series": "nearby (0.66)", "value": 0.453},
    {"date": "2016-08-27", "series": "nearby (0.66)", "value": 0.478},
    {"date": "2016-09-04", "series": "nearby (0.66)", "value": 0.46},
    {"date": "2016-09-12", "series": "nearby (0.66)", "value": 0.434},
    {"date": "2016-09-20", "series": "nearby (0.66)", "value": 0.414},
    {"date": "2016-09-23", "series": "nearby (0.66)", "value": 0.395},
    {"date": "2016-09-26", "series": "nearby (0.66)", "value": 0.414},
    {"date": "2016-10-06", "series": "nearby (0.66)", "value": 0.425},
    {"date": "2016-10-12", "series": "nearby (0.66)", "value": 0.414},
    {"date": "2016-11-01", "series": "nearby (0.66)", "value": 0.414},
    {"date": "2016-11-04", "series": "nearby (0.66)", "value": 0.497},
    {"date": "2016-11-12", "series": "nearby (0.66)", "value": 0.5},
    {"date": "2016-11-22", "series": "nearby (0.66)", "value": 0.53},
    {"date": "2016-12-03", "series": "nearby (0.66)", "value": 0.53},
    {"date": "2016-12-14", "series": "nearby (0.66)", "value": 0.535},
    {"date": "2016-12-15", "series": "nearby (0.66)", "value": 0.657},
    {"date": "2017-01-06", "series": "nearby (0.66)", "value": 0.657}
  ]},
  "resolve": {"axis": {"y": "independent"}},
  "layer": [
    {
      "mark": {"type": "line", "strokeJoin": "round"},
      "encoding": {
        "x": {"field": "date", "type": "temporal",
          "scale": {"type": "utc", "nice": false, "domain": [{"year": 2014, "month": 1, "date": 1, "utc": true}, {"year": 2018, "month": 1, "date": 1, "utc": true}]},
          "axis": {
            "orient": "bottom",
            "values": [1388534400000, 1420070400000, 1451606400000, 1483228800000, 1514764800000],
            "tickSize": 13, "tickWidth": 3, "labelOffset": 116, "labelPadding": -6, "labelFlush": false, "labelOverlap": false,
            "labelExpr": "utcFormat(datum.value, '%Y') === '2018' ? '' : utcFormat(datum.value, '%Y')",
            "title": "Source: Chicago Mercantile Exchange.", "titleAnchor": "start", "titleAlign": "left", "titleFont": "Liberation Serif", "titleFontSize": 15, "titleFontWeight": "normal", "titleColor": "black", "titlePadding": 20
          }},
        "y": {"field": "value", "type": "quantitative",
          "scale": {"domain": [0, 1.4], "nice": false},
          "axis": {"orient": "left", "title": null, "values": [0, 0.1, 0.2, 0.3, 0.4, 0.5, 0.6, 0.7, 0.8, 0.9, 1.0, 1.1, 1.2, 1.3, 1.4],
            "tickSize": {"condition": {"test": "round(datum.value*10) % 2 === 1", "value": 6}, "value": 13},
            "labelPadding": 2, "labelOverlap": false,
            "labelExpr": "round(datum.value*10) % 2 === 1 ? '' : (datum.value < 0.95 ? replace(format(datum.value, '.1f'), '0.', '.') : format(datum.value, '.1f'))"}},
        "color": {"field": "series", "type": "nominal",
          "scale": {"domain": ["12-month (1.14)", "6-month (0.83)", "3-month (0.69)", "nearby (0.66)"], "range": ["#FF0000", "#007A00", "#0000FF", "#8B008F"]},
          "legend": {"title": null, "orient": "none", "legendX": 57, "legendY": 130}},
        "strokeWidth": {"field": "series", "type": "nominal",
          "scale": {"type": "ordinal", "domain": ["12-month (1.14)", "6-month (0.83)", "3-month (0.69)", "nearby (0.66)"], "range": [2.4, 1.1, 1.2, 2.5]},
          "legend": {"title": null, "orient": "none", "legendX": 57, "legendY": 130}}
      }
    },
    {
      "mark": {"type": "line", "opacity": 0},
      "encoding": {
        "x": {"field": "date", "type": "temporal"},
        "y": {"field": "value", "type": "quantitative",
          "axis": {"orient": "right", "title": null, "values": [0, 0.1, 0.2, 0.3, 0.4, 0.5, 0.6, 0.7, 0.8, 0.9, 1.0, 1.1, 1.2, 1.3, 1.4],
            "tickSize": {"condition": {"test": "round(datum.value*10) % 2 === 1", "value": 7}, "value": 12},
            "labelPadding": 2, "labelOverlap": false,
            "labelExpr": "round(datum.value*10) % 2 === 1 ? '' : (datum.value < 0.95 ? replace(format(datum.value, '.1f'), '0.', '.') : format(datum.value, '.1f'))"}},
        "detail": {"field": "series", "type": "nominal"}
      }
    },
    {
      "data": {"values": [{}]},
      "mark": {"type": "text", "align": "left", "baseline": "alphabetic", "font": "Liberation Sans", "fontSize": 19, "fontWeight": "bold", "color": "black", "text": "FEDERAL FUNDS RATE FUTURES"},
      "encoding": {
        "x": {"datum": {"year": 2014, "month": 1, "date": 18, "utc": true}, "type": "temporal"},
        "y": {"datum": 1.342, "type": "quantitative", "axis": null}
      }
    },
    {
      "data": {"values": [{}]},
      "mark": {"type": "text", "align": "left", "baseline": "alphabetic", "font": "Liberation Sans", "fontSize": 16, "color": "black", "text": "(percent)"},
      "encoding": {
        "x": {"datum": {"year": 2014, "month": 1, "date": 18, "utc": true}, "type": "temporal"},
        "y": {"datum": 1.283, "type": "quantitative", "axis": null}
      }
    },
    {
      "data": {"values": [{}]},
      "mark": {"type": "text", "align": "right", "baseline": "alphabetic", "font": "Liberation Serif", "fontSize": 16.5, "fontWeight": "bold", "fontStyle": "italic", "color": "black", "text": "yardeni.com"},
      "encoding": {
        "x": {"datum": {"year": 2017, "month": 12, "date": 18, "utc": true}, "type": "temporal"},
        "y": {"datum": 0.0175, "type": "quantitative", "axis": null}
      }
    },
    {
      "data": {"values": [{}]},
      "mark": {"type": "text", "align": "left", "baseline": "middle", "font": "Liberation Sans", "fontSize": 14, "color": "#8B008F", "text": "1/6"},
      "encoding": {
        "x": {"datum": {"year": 2017, "month": 1, "date": 16, "utc": true}, "type": "temporal"},
        "y": {"datum": 0.655, "type": "quantitative", "axis": null}
      }
    }
  ]
}
